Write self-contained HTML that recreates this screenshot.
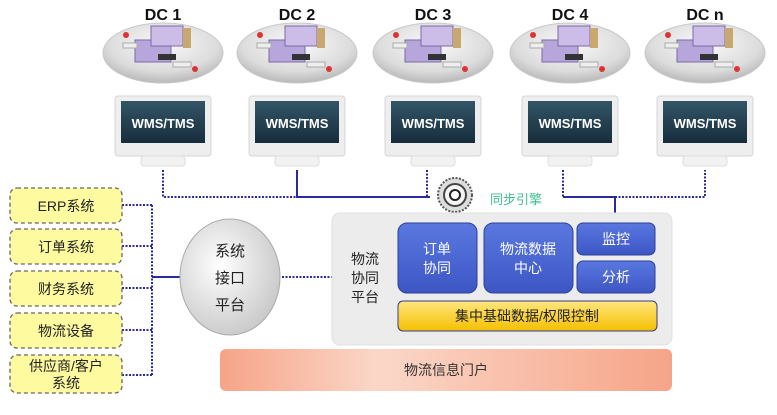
<!DOCTYPE html>
<html><head><meta charset="utf-8"><style>
body{margin:0;width:777px;height:410px;background:#fff;overflow:hidden;font-family:"Liberation Sans","Noto Sans CJK SC",sans-serif}
</style></head><body>
<svg width="777" height="410" viewBox="0 0 777 410" xmlns="http://www.w3.org/2000/svg" font-family="Liberation Sans, Noto Sans CJK SC, sans-serif">
<defs>
<radialGradient id="disc" cx="50%" cy="35%" r="65%"><stop offset="0" stop-color="#fafafa"/><stop offset="0.7" stop-color="#dcdcdc"/><stop offset="1" stop-color="#b8b8b8"/></radialGradient>
<linearGradient id="scr" x1="0" y1="0" x2="0" y2="1"><stop offset="0" stop-color="#335567"/><stop offset="1" stop-color="#172d3b"/></linearGradient>
<linearGradient id="blue" x1="0" y1="0" x2="0" y2="1"><stop offset="0" stop-color="#5a78e0"/><stop offset="1" stop-color="#3d56c4"/></linearGradient>
<linearGradient id="yel" x1="0" y1="0" x2="0" y2="1"><stop offset="0" stop-color="#ffe680"/><stop offset="1" stop-color="#f5c000"/></linearGradient>
<linearGradient id="sal" x1="0" y1="0" x2="1" y2="0"><stop offset="0" stop-color="#f6a488"/><stop offset="0.35" stop-color="#fbd7c8"/><stop offset="1" stop-color="#f6a488"/></linearGradient>
<radialGradient id="ell" cx="40%" cy="40%" r="70%"><stop offset="0" stop-color="#ffffff"/><stop offset="1" stop-color="#c4c4c4"/></radialGradient>
<g id="dc">
<ellipse cx="0" cy="35" rx="60" ry="30" fill="url(#disc)" stroke="#c8c8c8"/>
<rect x="-28" y="22" width="36" height="22" fill="#b7a6dc" stroke="#7d6aa6"/>
<rect x="-12" y="8" width="32" height="20" fill="#cbbde8" stroke="#7d6aa6"/>
<rect x="20" y="10" width="8" height="20" fill="#c9a870"/>
<rect x="-5" y="36" width="18" height="6" fill="#333"/>
<rect x="-40" y="25" width="14" height="5" fill="#eee" stroke="#aaa"/>
<rect x="10" y="44" width="18" height="5" fill="#eee" stroke="#aaa"/>
<circle cx="-37" cy="17" r="3" fill="#d33"/><circle cx="32" cy="51" r="3" fill="#d33"/>
</g>
<g id="mon">
<rect x="-48" y="0" width="96" height="60" rx="3" fill="#eeeeee" stroke="#d6d6d6"/>
<rect x="-42" y="5" width="84" height="42" fill="url(#scr)"/>
<text x="0" y="32" text-anchor="middle" font-size="13" font-weight="bold" fill="#fff">WMS/TMS</text>
<rect x="-22" y="60" width="44" height="10" rx="3" fill="#f2f2f2" stroke="#ddd"/>
</g>
</defs>
<g font-size="16" font-weight="bold" fill="#111" text-anchor="middle">
<text x="163" y="20">DC 1</text><text x="297" y="20">DC 2</text><text x="433" y="20">DC 3</text><text x="570" y="20">DC 4</text><text x="705" y="20">DC n</text>
</g>
<use href="#dc" x="163" y="18"/><use href="#dc" x="297" y="18"/><use href="#dc" x="433" y="18"/><use href="#dc" x="570" y="18"/><use href="#dc" x="705" y="18"/>
<use href="#mon" x="163" y="96"/><use href="#mon" x="297" y="96"/><use href="#mon" x="433" y="96"/><use href="#mon" x="570" y="96"/><use href="#mon" x="705" y="96"/>
<g stroke="#2a2a9a" stroke-width="2" fill="none">
<path d="M163 170V197H297" stroke-dasharray="2,1.5"/>
<path d="M297 170V197H430"/>
<path d="M427 170V197" stroke-dasharray="2,1.5"/>
<path d="M563 170V197" stroke-dasharray="2,1.5"/>
<path d="M563 197H615V223"/>
<path d="M615 197H705V170" stroke-dasharray="2,1.5"/>
<path d="M122 205H152M122 246H152M122 288H152M122 330H152M122 375H152" stroke-dasharray="2,1.5"/>
<path d="M152 205V375" stroke-dasharray="2,1.5"/>
<path d="M152 277H182"/>
<path d="M282 277H332" stroke-dasharray="2,1.5"/>
</g>
<circle cx="455" cy="195" r="17" fill="#ddd" stroke="#555" stroke-width="2" stroke-dasharray="2,1.5"/>
<circle cx="455" cy="195" r="11" fill="#f4f4f4" stroke="#444" stroke-width="2"/>
<circle cx="455" cy="195" r="5" fill="#fff" stroke="#222" stroke-width="2"/>
<text x="490" y="204" font-size="13" fill="#3fbf8f">同步引擎</text>
<rect x="332" y="213" width="340" height="132" rx="8" fill="#ececec" stroke="#e0e0e0"/>
<g font-size="14" fill="#222" text-anchor="middle"><text x="365" y="264">物流</text><text x="365" y="283">协同</text><text x="365" y="302">平台</text></g>
<rect x="398" y="223" width="79" height="70" rx="9" fill="url(#blue)" stroke="#2c3f9a"/>
<rect x="484" y="223" width="89" height="70" rx="9" fill="url(#blue)" stroke="#2c3f9a"/>
<rect x="577" y="223" width="78" height="32" rx="6" fill="url(#blue)" stroke="#2c3f9a"/>
<rect x="577" y="261" width="78" height="32" rx="6" fill="url(#blue)" stroke="#2c3f9a"/>
<g font-size="14" fill="#fff" text-anchor="middle">
<text x="437" y="254">订单</text><text x="437" y="273">协同</text>
<text x="528" y="254">物流数据</text><text x="528" y="273">中心</text>
<text x="616" y="244">监控</text><text x="616" y="282">分析</text>
</g>
<rect x="398" y="301" width="259" height="30" rx="5" fill="url(#yel)" stroke="#3a3a8a"/>
<text x="527" y="321" font-size="14" text-anchor="middle" fill="#222">集中基础数据/权限控制</text>
<rect x="220" y="349" width="452" height="42" rx="6" fill="url(#sal)"/>
<text x="446" y="375" font-size="14" text-anchor="middle" fill="#333">物流信息门户</text>
<ellipse cx="230" cy="277" rx="50" ry="58" fill="url(#ell)" stroke="#aaa"/>
<g font-size="15" fill="#222" text-anchor="middle"><text x="230" y="256">系统</text><text x="230" y="283">接口</text><text x="230" y="310">平台</text></g>
<g fill="#fdfaa0" stroke="#666" stroke-dasharray="4,3" stroke-width="1.3">
<rect x="10" y="188" width="112" height="35" rx="7"/><rect x="10" y="229" width="112" height="35" rx="7"/>
<rect x="10" y="271" width="112" height="35" rx="7"/><rect x="10" y="313" width="112" height="35" rx="7"/>
<rect x="10" y="355" width="112" height="38" rx="7"/>
</g>
<g font-size="14" fill="#222" text-anchor="middle">
<text x="66" y="211">ERP系统</text><text x="66" y="252">订单系统</text><text x="66" y="294">财务系统</text><text x="66" y="336">物流设备</text>
<text x="66" y="371">供应商/客户</text><text x="66" y="388">系统</text>
</g>
</svg>
</body></html>
